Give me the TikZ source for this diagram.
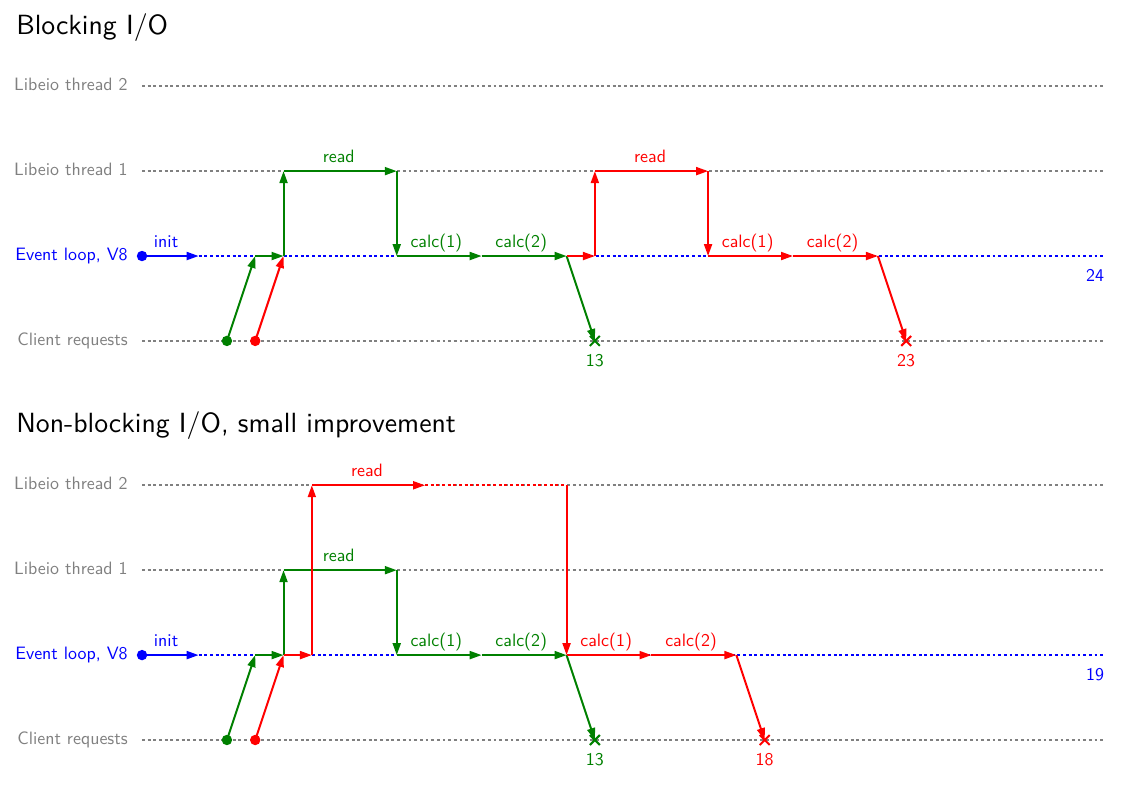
\documentclass[tikz,border=0pt]{standalone}
\usepackage{fontspec}
\usetikzlibrary{arrows.meta,shapes.misc}
\newfontfamily\lmsten{lmsans10-regular}[Extension=.otf]
\definecolor{dgreen}{RGB}{0,128,0}
\definecolor{lgray}{RGB}{128,128,128}
\newcommand\lblfont{\lmsten\fontsize{18}{21}\selectfont}
\newcommand\ttlfont{\lmsten\fontsize{27.9}{32}\selectfont}
\tikzset{
  lane/.style={lgray, line width=1.9pt, dash pattern=on 2.9pt off 2.8pt},
  evline/.style={blue, line width=1.9pt, dash pattern=on 2.9pt off 2.8pt},
  waitline/.style={line width=1.9pt, dash pattern=on 2.9pt off 2.8pt},
  lanelabel/.style={anchor=base east, inner sep=0pt, font=\lblfont, text=lgray, yshift=-4.3pt},
  flow/.style={line width=2pt, -{Triangle[length=12pt,width=8pt]}},
  seglabel/.style={anchor=base, inner sep=0pt, font=\lblfont, yshift=8.5pt},
  numlabel/.style={anchor=base, inner sep=0pt, font=\lblfont, yshift=-26pt},
  endlabel/.style={anchor=base east, inner sep=0pt, font=\lblfont, yshift=-26pt},
  startdot/.style={circle, fill, inner sep=0pt, minimum size=10.5pt},
  endmark/.style={cross out, draw, line width=2pt, inner sep=0pt, minimum size=8pt},
  ttl/.style={anchor=base west, inner sep=0pt, font=\ttlfont},
}
% shared part of a section: #1 prefix, #2 total number
\newcommand\drawbase[2]{%
  \coordinate (#1t2s) at (0,6);  \coordinate (#1t2e) at (34,6);
  \coordinate (#1t1s) at (0,3);  \coordinate (#1t1e) at (34,3);
  \coordinate (#1evs) at (0,0);  \coordinate (#1eve) at (34,0);
  \coordinate (#1cls) at (0,-3); \coordinate (#1cle) at (34,-3);
  \draw[lane] (#1t2s) -- (#1t2e);
  \draw[lane] (#1t1s) -- (#1t1e);
  \draw[evline] (#1evs) -- (#1eve);
  \draw[lane] (#1cls) -- (#1cle);
  \node[lanelabel] (#1Lt2) at (-0.5,6) {Libeio thread 2};
  \node[lanelabel] (#1Lt1) at (-0.5,3) {Libeio thread 1};
  \node[lanelabel, text=blue] (#1Lev) at (-0.5,0) {Event loop, V8};
  \node[lanelabel] (#1Lcl) at (-0.5,-3) {Client requests};
  % init
  \node[startdot, blue] (#1bdot) at (#1evs) {};
  \coordinate (#1i2) at (2,0);
  \draw[flow, blue] (#1bdot.center) -- (#1i2);
  \node[seglabel, text=blue] (#1Linit) at (0.85,0) {init};
  \node[endlabel, text=blue] (#1total) at (#1eve) {#2};
  % green request
  \coordinate (#1g4) at (4,0);
  \coordinate (#1g5) at (5,0);
  \coordinate (#1g5t) at (5,3);
  \coordinate (#1g9t) at (9,3);
  \coordinate (#1g9) at (9,0);
  \coordinate (#1g12) at (12,0);
  \coordinate (#1g15) at (15,0);
  \node[startdot, dgreen] (#1gdot) at (3,-3) {};
  \node[endmark, dgreen] (#1gx) at (16,-3) {};
  \draw[flow, dgreen] (#1gdot.center) -- (#1g4);
  \draw[flow, dgreen] (#1g4) -- (#1g5);
  \draw[flow, dgreen] (#1g5) -- (#1g5t);
  \draw[flow, dgreen] (#1g5t) -- (#1g9t);
  \draw[flow, dgreen] (#1g9t) -- (#1g9);
  \draw[flow, dgreen] (#1g9) -- (#1g12);
  \draw[flow, dgreen] (#1g12) -- (#1g15);
  \draw[flow, dgreen] (#1g15) -- (#1gx.center);
  \node[seglabel, text=dgreen] (#1Lgread) at (6.95,3) {read};
  \node[seglabel, text=dgreen] (#1Lgc1) at (10.4,0) {calc(1)};
  \node[seglabel, text=dgreen] (#1Lgc2) at (13.4,0) {calc(2)};
  \node[numlabel, text=dgreen] (#1Lg13) at (#1gx) {13};
  % red start
  \node[startdot, red] (#1rdot) at (4,-3) {};
  \coordinate (#1r5) at (5,0);
  \draw[flow, red] (#1rdot.center) -- (#1r5);
}
\begin{document}
\begin{tikzpicture}
\useasboundingbox (-5.018,-19.15) rectangle (35.12,9.046);
% ---------------- Blocking I/O ----------------
\node[ttl] (titleA) at (-4.45,7.84) {Blocking I/O};
\drawbase{a}{24}
\coordinate (ar15) at (15,0);
\coordinate (ar16) at (16,0);
\coordinate (ar16t) at (16,3);
\coordinate (ar20t) at (20,3);
\coordinate (ar20) at (20,0);
\coordinate (ar23) at (23,0);
\coordinate (ar26) at (26,0);
\node[endmark, red] (arx) at (27,-3) {};
\draw[flow, red] (ar15) -- (ar16);
\draw[flow, red] (ar16) -- (ar16t);
\draw[flow, red] (ar16t) -- (ar20t);
\draw[flow, red] (ar20t) -- (ar20);
\draw[flow, red] (ar20) -- (ar23);
\draw[flow, red] (ar23) -- (ar26);
\draw[flow, red] (ar26) -- (arx.center);
\node[seglabel, text=red] (aLrread) at (17.95,3) {read};
\node[seglabel, text=red] (aLrc1) at (21.4,0) {calc(1)};
\node[seglabel, text=red] (aLrc2) at (24.4,0) {calc(2)};
\node[numlabel, text=red] (aLr23) at (arx) {23};
% ---------------- Non-blocking I/O ----------------
\node[ttl] (titleB) at (-4.45,-6.25) {Non-blocking I/O, small improvement};
\begin{scope}[yshift=-14.1cm]
\drawbase{b}{19}
\coordinate (br6) at (6,0);
\coordinate (br6t) at (6,6);
\coordinate (br10t) at (10,6);
\coordinate (br15t) at (15,6);
\coordinate (br15) at (15,0);
\coordinate (br18) at (18,0);
\coordinate (br21) at (21,0);
\node[endmark, red] (brx) at (22,-3) {};
\draw[flow, red] (br5) -- (br6);
\draw[flow, red] (br6) -- (br6t);
\draw[flow, red] (br6t) -- (br10t);
\draw[waitline, red] (br10t) -- (br15t);
\draw[flow, red] (br15t) -- (br15);
\draw[flow, red] (br15) -- (br18);
\draw[flow, red] (br18) -- (br21);
\draw[flow, red] (br21) -- (brx.center);
\node[seglabel, text=red] (bLrread) at (7.95,6) {read};
\node[seglabel, text=red] (bLrc1) at (16.4,0) {calc(1)};
\node[seglabel, text=red] (bLrc2) at (19.4,0) {calc(2)};
\node[numlabel, text=red] (bLr18) at (brx) {18};
\end{scope}
\end{tikzpicture}
\end{document}
